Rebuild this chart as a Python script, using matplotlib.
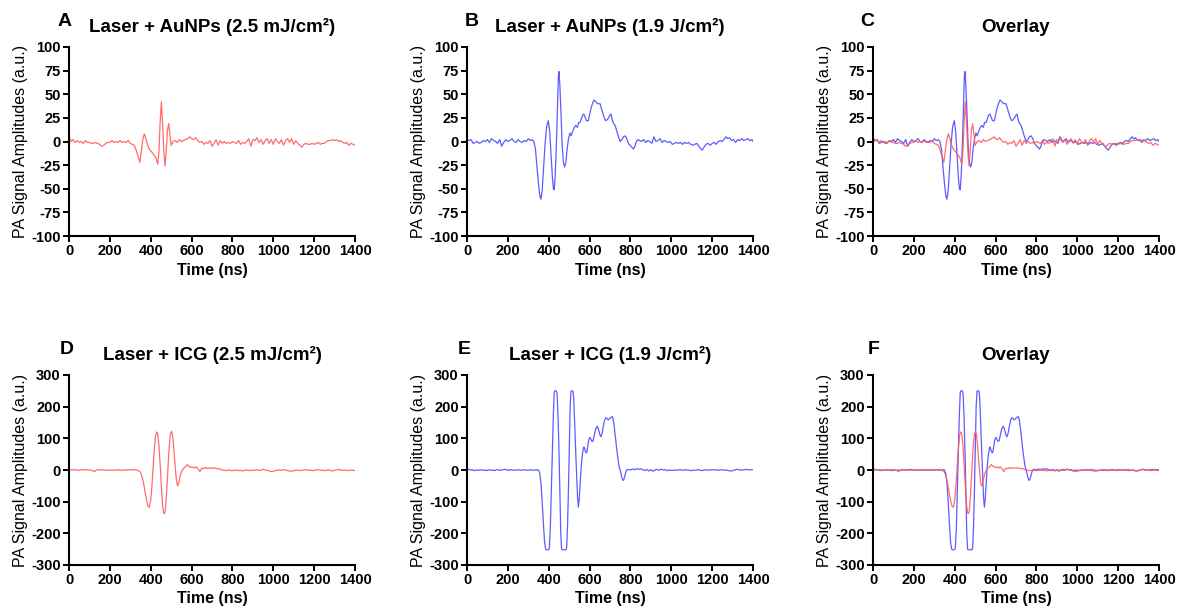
import matplotlib.pyplot as plt

plt.rcParams['font.family'] = ['Liberation Sans', 'DejaVu Sans']
plt.rcParams['axes.unicode_minus'] = False

# (time ns, amplitude a.u.)
aunp_low = [(0, 5), (5, 3), (10, 0), (20, 2), (30, -1), (40, 1), (50, -1), (60, 0), (70, -2), (80, 1),
            (90, -1), (100, -1), (110, -2), (120, -2), (130, -1), (140, -2), (150, -3), (160, -5),
            (170, -4), (180, -2), (190, -1), (200, -1), (210, 1), (220, -1), (230, 0), (240, -1),
            (250, 1), (260, -1), (270, 0), (280, -1), (290, 1), (300, -2), (310, -3), (320, -4),
            (330, -10), (340, -17), (347, -22), (355, -8), (362, 3), (369, 8), (375, 4), (385, -4),
            (395, -9), (405, -11), (415, -14), (425, -17), (434, -24), (440, -12), (446, 20),
            (452, 42), (458, 20), (464, -10), (470, -26), (476, -10), (482, 12), (488, 19),
            (494, 8), (500, -4), (510, 0), (520, 1), (530, -1), (540, 2), (550, 0), (560, 1),
            (570, 2), (580, 3), (592, 5), (600, 3), (610, 2), (620, 4), (630, 1), (640, -1),
            (650, 0), (660, -3), (670, -1), (680, -2), (690, 1), (700, -5), (710, -2), (720, 2),
            (730, -4), (740, 1), (750, -2), (760, 0), (770, -2), (780, -1), (790, -2), (800, 0),
            (810, -1), (820, -2), (830, 1), (840, -3), (850, -1), (860, -2), (870, 0), (880, 3),
            (890, -5), (900, 2), (910, 1), (920, 4), (930, -1), (940, 2), (950, -3), (960, 1),
            (970, 3), (980, -2), (990, 2), (1000, -3), (1010, 3), (1020, 0), (1030, -2),
            (1040, 2), (1050, -4), (1060, 1), (1070, 3), (1080, -1), (1090, 3), (1100, -3),
            (1110, 1), (1120, -2), (1130, -4), (1140, -6), (1150, -3), (1160, -2), (1170, -3),
            (1180, -3), (1190, -2), (1200, -3), (1210, -2), (1220, -1), (1230, -3), (1240, -2),
            (1250, -2), (1260, 0), (1270, 1), (1280, 1), (1290, 2), (1300, 1), (1310, 2),
            (1320, 0), (1330, 1), (1340, -1), (1350, -2), (1360, -1), (1370, -4), (1380, -2),
            (1390, -3), (1400, -4)]

aunp_high = [(0, 2), (10, 1), (20, 2), (30, -2), (40, -1), (50, 0), (60, -2), (70, -1), (80, 1),
             (90, 0), (100, 2), (110, -1), (120, 3), (130, 1), (140, 0), (150, -2), (160, 2),
             (170, -5), (180, -1), (190, 2), (200, 0), (210, 1), (220, 3), (230, 0), (240, -1),
             (250, 2), (260, 0), (270, -1), (280, 1), (290, 0), (300, 3), (310, 1), (320, 2),
             (327, 0), (335, -8), (342, -25), (350, -45), (357, -58), (362, -61), (368, -52),
             (375, -28), (382, -3), (390, 16), (398, 22), (405, 10), (412, -15), (418, -38),
             (423, -50), (427, -51), (432, -35), (438, 0), (443, 40), (447, 68), (450, 74),
             (454, 62), (460, 30), (466, -5), (472, -22), (478, -27), (484, -22), (490, -8),
             (497, 3), (504, 9), (510, 6), (516, 10), (523, 14), (532, 17), (540, 15), (546, 20),
             (553, 20), (560, 24), (566, 28), (572, 29), (578, 26), (585, 22), (594, 22),
             (600, 28), (607, 35), (614, 40), (622, 44), (630, 42), (640, 40), (651, 40),
             (658, 35), (665, 30), (672, 25), (679, 22), (686, 23), (693, 25), (700, 28),
             (705, 29), (712, 22), (718, 19), (725, 17), (732, 12), (740, 6), (750, 0), (758, 2),
             (766, 5), (774, 6), (782, 3), (790, -2), (798, -4), (806, -6), (815, -8), (822, -5),
             (829, 0), (836, 2), (845, 1), (855, 0), (865, 2), (875, -1), (885, 1), (895, 0),
             (905, -2), (915, 5), (925, 0), (935, 1), (945, 3), (955, -1), (965, 1), (975, 0),
             (985, -1), (995, 0), (1005, -3), (1015, -2), (1025, -1), (1035, -2), (1045, -1),
             (1055, -3), (1065, -1), (1075, -2), (1085, -1), (1095, -3), (1105, -4), (1115, -3),
             (1125, -2), (1135, -5), (1145, -8), (1152, -9), (1160, -6), (1170, -3), (1180, -2),
             (1190, -4), (1200, -2), (1210, -1), (1220, -3), (1230, 0), (1240, 1), (1250, 0),
             (1260, 3), (1268, 5), (1275, 3), (1285, 4), (1295, 1), (1305, 2), (1315, -1),
             (1325, 2), (1335, 1), (1345, 3), (1355, 1), (1365, 2), (1375, 3), (1385, 1),
             (1395, 2), (1400, 0)]

icg_low = [(0, 0), (10, 1), (20, 0), (30, 1), (40, 0), (50, -1), (60, 0), (70, 1), (80, 0), (90, 1),
           (100, 0), (110, -1), (120, -3), (124, -5), (130, -2), (140, 1), (150, 0), (160, 1),
           (170, 0), (180, -1), (190, 0), (200, -1), (210, 0), (220, -1), (230, 0), (240, 1),
           (250, -1), (260, 0), (270, -1), (280, 0), (290, 1), (300, 0), (310, 0), (320, 1),
           (330, 0), (340, -2), (347, -5), (355, -15), (362, -32), (370, -60), (378, -90),
           (386, -113), (393, -118), (400, -95), (406, -50), (412, 10), (418, 70), (424, 110),
           (429, 120), (434, 115), (440, 80), (446, 20), (452, -50), (458, -110), (463, -135),
           (467, -138), (472, -125), (478, -70), (484, 0), (490, 70), (496, 112), (502, 122),
           (507, 110), (512, 75), (518, 25), (524, -20), (528, -42), (532, -50), (537, -42),
           (542, -25), (548, -10), (555, 0), (562, 6), (570, 10), (579, 17), (586, 12),
           (593, 10), (600, 8), (608, 9), (615, 6), (622, 10), (630, 5), (636, 0), (641, -5),
           (646, 3), (652, 6), (660, 4), (668, 8), (676, 5), (684, 7), (692, 6), (700, 5),
           (708, 7), (716, 6), (724, 4), (732, 5), (740, 2), (750, 0), (760, -1), (770, -2),
           (780, 0), (790, -1), (800, -2), (810, -1), (820, 0), (830, -2), (840, -1), (850, -3),
           (860, -1), (870, 0), (880, -1), (890, -2), (900, 0), (910, -1), (920, 1), (930, -1),
           (940, 0), (950, 2), (960, 0), (970, -1), (980, -3), (990, -5), (1000, -4),
           (1010, -2), (1020, -1), (1030, 0), (1040, -1), (1050, 1), (1060, 0), (1070, -2),
           (1080, -3), (1090, -4), (1100, -2), (1110, -1), (1120, 0), (1130, -2), (1140, -1),
           (1150, 0), (1160, 1), (1170, -1), (1180, 0), (1190, -2), (1200, -1), (1210, 0),
           (1220, 1), (1230, -1), (1240, 0), (1250, -2), (1260, -1), (1270, 0), (1280, -1),
           (1290, -3), (1300, -1), (1310, 0), (1320, 2), (1330, 0), (1340, -1), (1350, 0),
           (1360, -2), (1370, -1), (1380, 0), (1390, -1), (1400, -2)]

icg_high = [(0, 5), (8, 2), (15, 0), (25, 1), (35, -2), (45, 0), (55, -1), (65, 1), (75, -1), (85, 0),
            (95, -2), (105, 1), (115, -1), (125, 0), (135, -2), (145, 1), (155, 0), (165, -1),
            (175, 1), (185, 2), (195, 0), (205, -1), (215, 1), (225, -1), (235, 0), (245, -1),
            (255, 1), (265, -1), (275, 0), (285, 1), (295, -1), (305, 0), (315, 1), (325, -1),
            (335, 0), (345, 1), (350, 0), (356, -10), (362, -40), (368, -100), (374, -170),
            (380, -230), (385, -250), (390, -252), (398, -252), (403, -248), (408, -180),
            (413, -60), (418, 60), (423, 180), (427, 245), (430, 250), (437, 250), (441, 240),
            (446, 160), (451, 40), (455, -80), (459, -200), (463, -250), (468, -252), (484, -252),
            (488, -245), (492, -180), (497, -50), (501, 80), (505, 200), (509, 248), (512, 250),
            (518, 250), (522, 230), (527, 150), (532, 60), (537, -20), (541, -85), (545, -117),
            (549, -95), (554, -40), (559, 10), (565, 50), (570, 70), (573, 73), (578, 62),
            (582, 55), (586, 55), (590, 70), (596, 95), (602, 103), (607, 97), (612, 90),
            (617, 92), (623, 110), (630, 130), (638, 138), (644, 128), (650, 112), (656, 105),
            (662, 118), (668, 140), (674, 158), (679, 165), (685, 163), (691, 158), (697, 162),
            (703, 165), (708, 168), (712, 168), (717, 155), (722, 130), (728, 95), (734, 60),
            (740, 30), (745, 10), (750, 0), (755, -15), (760, -28), (764, -33), (768, -30),
            (773, -18), (778, -6), (782, 0), (790, 2), (800, 0), (810, 3), (820, 1), (830, 4),
            (840, 2), (850, 4), (860, 1), (870, -2), (880, 2), (890, -3), (900, 1), (910, -4),
            (920, 0), (930, 2), (940, -1), (950, 3), (960, 0), (970, 1), (980, -2), (990, 0),
            (1000, -1), (1010, -1), (1020, 0), (1030, -1), (1040, 1), (1050, 0), (1060, -1),
            (1070, 1), (1080, 0), (1090, -1), (1100, -2), (1110, 0), (1120, -1), (1130, 1),
            (1140, 0), (1150, -2), (1160, 0), (1170, 1), (1180, -1), (1190, 0), (1200, 1),
            (1210, 0), (1220, 1), (1230, -1), (1240, 0), (1250, 1), (1260, -1), (1270, 0),
            (1280, -2), (1290, -3), (1300, -2), (1310, 0), (1320, 2), (1330, 1), (1340, -1),
            (1350, 0), (1360, 1), (1370, 2), (1380, 0), (1390, 1), (1400, 1)]

titles = ["Laser + AuNPs (2.5 mJ/cm²)", "Laser + AuNPs (1.9 J/cm²)", "Overlay",
          "Laser + ICG (2.5 mJ/cm²)", "Laser + ICG (1.9 J/cm²)", "Overlay"]
letters = ["A", "B", "C", "D", "E", "F"]
x_ticks = [0, 200, 400, 600, 800, 1000, 1200, 1400]
y_ticks_top = [100, 75, 50, 25, 0, -25, -50, -75, -100]
y_ticks_bottom = [300, 200, 100, 0, -100, -200, -300]

RED = "#ff5c5c"
BLUE = "#4b4bff"

W, H = 1179, 615
fig = plt.figure(figsize=(W / 100, H / 100), dpi=100)
fig.set_facecolor("white")

lefts = [69, 467, 873]
rows = [(47, 236), (375, 565)]
ax_w = 286

panels = [
    [(aunp_low, RED)],
    [(aunp_high, BLUE)],
    [(aunp_high, BLUE), (aunp_low, RED)],
    [(icg_low, RED)],
    [(icg_high, BLUE)],
    [(icg_high, BLUE), (icg_low, RED)],
]
letter_dx = [-11, -2, -13, -9, -9, -5]

for i, traces in enumerate(panels):
    r, c = divmod(i, 3)
    top, bot = rows[r]
    ax = fig.add_axes([lefts[c] / W, 1 - bot / H, ax_w / W, (bot - top) / H])
    for pts, col in traces:
        t, v = zip(*pts)
        ax.plot(t, v, color=col, lw=0.9, alpha=0.9)
    ax.set_xlim(0, 1400)
    ax.set_xticks(x_ticks)
    if r == 0:
        ax.set_ylim(-100, 100)
        ax.set_yticks(y_ticks_top)
    else:
        ax.set_ylim(-300, 300)
        ax.set_yticks(y_ticks_bottom)
    for s in ["top", "right"]:
        ax.spines[s].set_visible(False)
    for s in ["left", "bottom"]:
        ax.spines[s].set_linewidth(1.5)
    ax.tick_params(direction="out", length=4, width=1.4, labelsize=10.5, pad=2)
    for lab in ax.get_xticklabels() + ax.get_yticklabels():
        lab.set_fontweight("bold")
    ax.set_xlabel("Time (ns)", fontsize=11.5, fontweight="bold", labelpad=3)
    ax.set_ylabel("PA Signal Amplitudes (a.u.)", fontsize=11.5, labelpad=2)
    ax.set_title(titles[i], fontsize=13.5, fontweight="bold", pad=11)
    fig.text((lefts[c] + letter_dx[i]) / W, 1 - (top - 26) / H, letters[i],
             fontsize=14, fontweight="bold", ha="left", va="center")

fig.savefig("out.png", dpi=100, facecolor="white")
